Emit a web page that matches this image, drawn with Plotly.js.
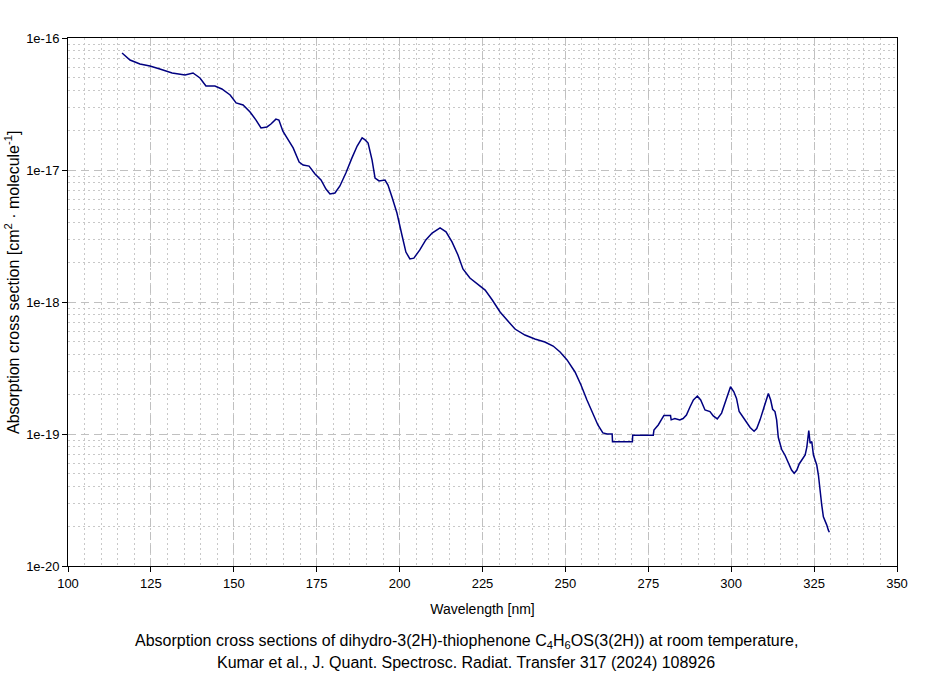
<!DOCTYPE html>
<html>
<head>
<meta charset="utf-8">
<script src="https://cdn.plot.ly/plotly-3.0.1.min.js"></script>
<style>body{margin:0;background:#fff}#plot{width:934px;height:673px}</style>
</head>
<body>
<div id="plot"></div>
<script>
const wavelength = [116.3,118.7,121.7,124.7,127.7,131.4,135.3,137.7,139.8,141.6,144.3,146.4,148.9,150.7,152.8,154.9,156.7,158.2,160.0,161.2,162.7,163.6,164.8,166.3,167.9,169.7,170.9,172.7,174.5,176.3,177.8,179.0,180.5,182.0,183.8,185.6,187.2,188.7,189.6,190.5,191.7,192.6,193.8,195.6,196.5,197.7,199.2,200.7,201.9,203.1,204.3,206.1,207.9,209.8,212.2,214.0,215.8,217.6,219.1,221.2,223.6,225.8,227.9,230.3,232.4,234.8,237.8,240.8,243.8,246.3,248.4,250.5,252.9,254.7,256.5,258.3,259.8,261.3,262.6,264.1,264.2,270.2,270.3,276.3,276.5,276.7,278.0,279.0,279.7,281.7,281.9,283.0,284.5,285.5,286.5,287.6,288.6,289.8,290.8,292.1,293.6,294.6,295.8,297.1,298.4,299.1,299.8,300.8,301.6,302.4,303.6,304.7,305.7,306.9,307.7,308.7,309.9,310.7,311.2,311.9,312.5,313.2,313.7,314.2,315.2,316.2,317.2,318.2,319.0,319.8,320.5,321.3,322.3,322.8,323.4,323.8,324.3,324.8,325.3,325.8,326.3,326.8,327.3,327.8,328.3,328.8,329.3,329.6];
const crossSection = [7.70e-17,6.81e-17,6.35e-17,6.14e-17,5.82e-17,5.43e-17,5.25e-17,5.43e-17,4.98e-17,4.33e-17,4.33e-17,4.11e-17,3.70e-17,3.22e-17,3.11e-17,2.75e-17,2.39e-17,2.08e-17,2.12e-17,2.23e-17,2.43e-17,2.39e-17,1.97e-17,1.69e-17,1.47e-17,1.15e-17,1.09e-17,1.07e-17,9.33e-18,8.40e-18,7.18e-18,6.58e-18,6.70e-18,7.57e-18,9.49e-18,1.23e-17,1.52e-17,1.75e-17,1.69e-17,1.60e-17,1.19e-17,8.69e-18,8.26e-18,8.40e-18,7.69e-18,6.24e-18,4.72e-18,3.22e-18,2.39e-18,2.12e-18,2.15e-18,2.48e-18,2.95e-18,3.33e-18,3.64e-18,3.40e-18,2.85e-18,2.27e-18,1.78e-18,1.52e-18,1.37e-18,1.23e-18,1.04e-18,8.40e-19,7.31e-19,6.24e-19,5.62e-19,5.25e-19,4.98e-19,4.64e-19,4.18e-19,3.64e-19,2.95e-19,2.35e-19,1.81e-19,1.42e-19,1.17e-19,1.02e-19,1.00e-19,1.00e-19,8.73e-20,8.73e-20,9.80e-20,9.80e-20,9.80e-20,1.07e-19,1.17e-19,1.29e-19,1.38e-19,1.38e-19,1.28e-19,1.31e-19,1.28e-19,1.31e-19,1.39e-19,1.61e-19,1.81e-19,1.94e-19,1.81e-19,1.52e-19,1.48e-19,1.37e-19,1.30e-19,1.44e-19,1.76e-19,2.03e-19,2.28e-19,2.09e-19,1.86e-19,1.48e-19,1.34e-19,1.21e-19,1.12e-19,1.05e-19,1.10e-19,1.28e-19,1.61e-19,1.92e-19,2.03e-19,1.81e-19,1.54e-19,1.48e-19,1.28e-19,9.44e-20,7.66e-20,6.93e-20,6.00e-20,5.33e-20,5.04e-20,5.33e-20,5.93e-20,6.35e-20,6.93e-20,7.93e-20,1.06e-19,8.51e-20,8.75e-20,6.93e-20,6.35e-20,5.82e-20,4.89e-20,3.56e-20,2.90e-20,2.36e-20,2.23e-20,2.05e-20,1.87e-20,1.80e-20];
const xTicks = [100,125,150,175,200,225,250,275,300,325,350];
const yTickVals = [1e-20,1e-19,1e-18,1e-17,1e-16];
const yTickText = ['1e-20','1e-19','1e-18','1e-17','1e-16'];
const yDecades = [1e-20,1e-19,1e-18,1e-17];
const yMinorMultipliers = [2,3,4,5,6,7,8,9];
const yMinorVals = [];
yDecades.forEach(d => yMinorMultipliers.forEach(m => yMinorVals.push(m * d)));

const ff = 'Liberation Sans, Arial, sans-serif';
const tickFont = {family: ff, size: 13, color: '#000'};
const data = [{
  x: wavelength, y: crossSection, type: 'scatter', mode: 'lines',
  line: {color: '#000080', width: 1.5}, hoverinfo: 'x+y'
}];
const layout = {
  width: 934, height: 673,
  margin: {l: 68, r: 37, t: 38, b: 107},
  paper_bgcolor: '#fff', plot_bgcolor: '#fff',
  font: tickFont, showlegend: false,
  xaxis: {
    range: [100, 350], tickvals: xTicks, ticktext: xTicks.map(String),
    ticks: 'outside', ticklen: 5, tickcolor: '#000', tickfont: tickFont,
    showline: true, linecolor: '#000', linewidth: 1, mirror: true,
    showgrid: true, gridcolor: '#c0c0c0', griddash: '8px,5px', gridwidth: 1,
    minor: {dtick: 5, tick0: 100, showgrid: true, gridcolor: '#c8c8c8', griddash: '2px,3px', gridwidth: 1, ticks: ''},
    zeroline: false,
    title: {text: 'Wavelength [nm]', font: {family: ff, size: 14, color: '#000'}, standoff: 14}
  },
  yaxis: {
    type: 'log', range: [-20, -16], tickvals: yTickVals, ticktext: yTickText,
    ticks: 'outside', ticklen: 5, tickcolor: '#000', tickfont: tickFont,
    showline: true, linecolor: '#000', linewidth: 1, mirror: true,
    showgrid: true, gridcolor: '#c0c0c0', griddash: '8px,5px', gridwidth: 1,
    minor: {tickmode: 'array', tickvals: yMinorVals, showgrid: true, gridcolor: '#c8c8c8', griddash: '2px,3px', gridwidth: 1, ticks: ''},
    zeroline: false
  },
  annotations: [{
    xref: 'paper', yref: 'paper', x: (12 - 68) / 829, y: (566 - 283) / 528, xanchor: 'center', yanchor: 'middle',
    textangle: -90, showarrow: false, font: {family: ff, size: 16, color: '#000'},
    text: 'Absorption cross section [cm<sup>2</sup> · molecule<sup>-1</sup>]'
  }, {
    xref: 'paper', yref: 'paper', x: (466 - 68) / 829, y: (566 - 641) / 528, xanchor: 'center', yanchor: 'middle',
    showarrow: false, font: {family: ff, size: 16, color: '#000'},
    text: 'Absorption cross sections of dihydro-3(2H)-thiophenone C<sub>4</sub>H<sub>6</sub>OS(3(2H)) at room temperature,'
  }, {
    xref: 'paper', yref: 'paper', x: (466 - 68) / 829, y: (566 - 662) / 528, xanchor: 'center', yanchor: 'middle',
    showarrow: false, font: {family: ff, size: 16, color: '#000'},
    text: 'Kumar et al., J. Quant. Spectrosc. Radiat. Transfer 317 (2024) 108926'
  }]
};
Plotly.newPlot('plot', data, layout, {displayModeBar: false, staticPlot: true});
</script>
</body>
</html>
